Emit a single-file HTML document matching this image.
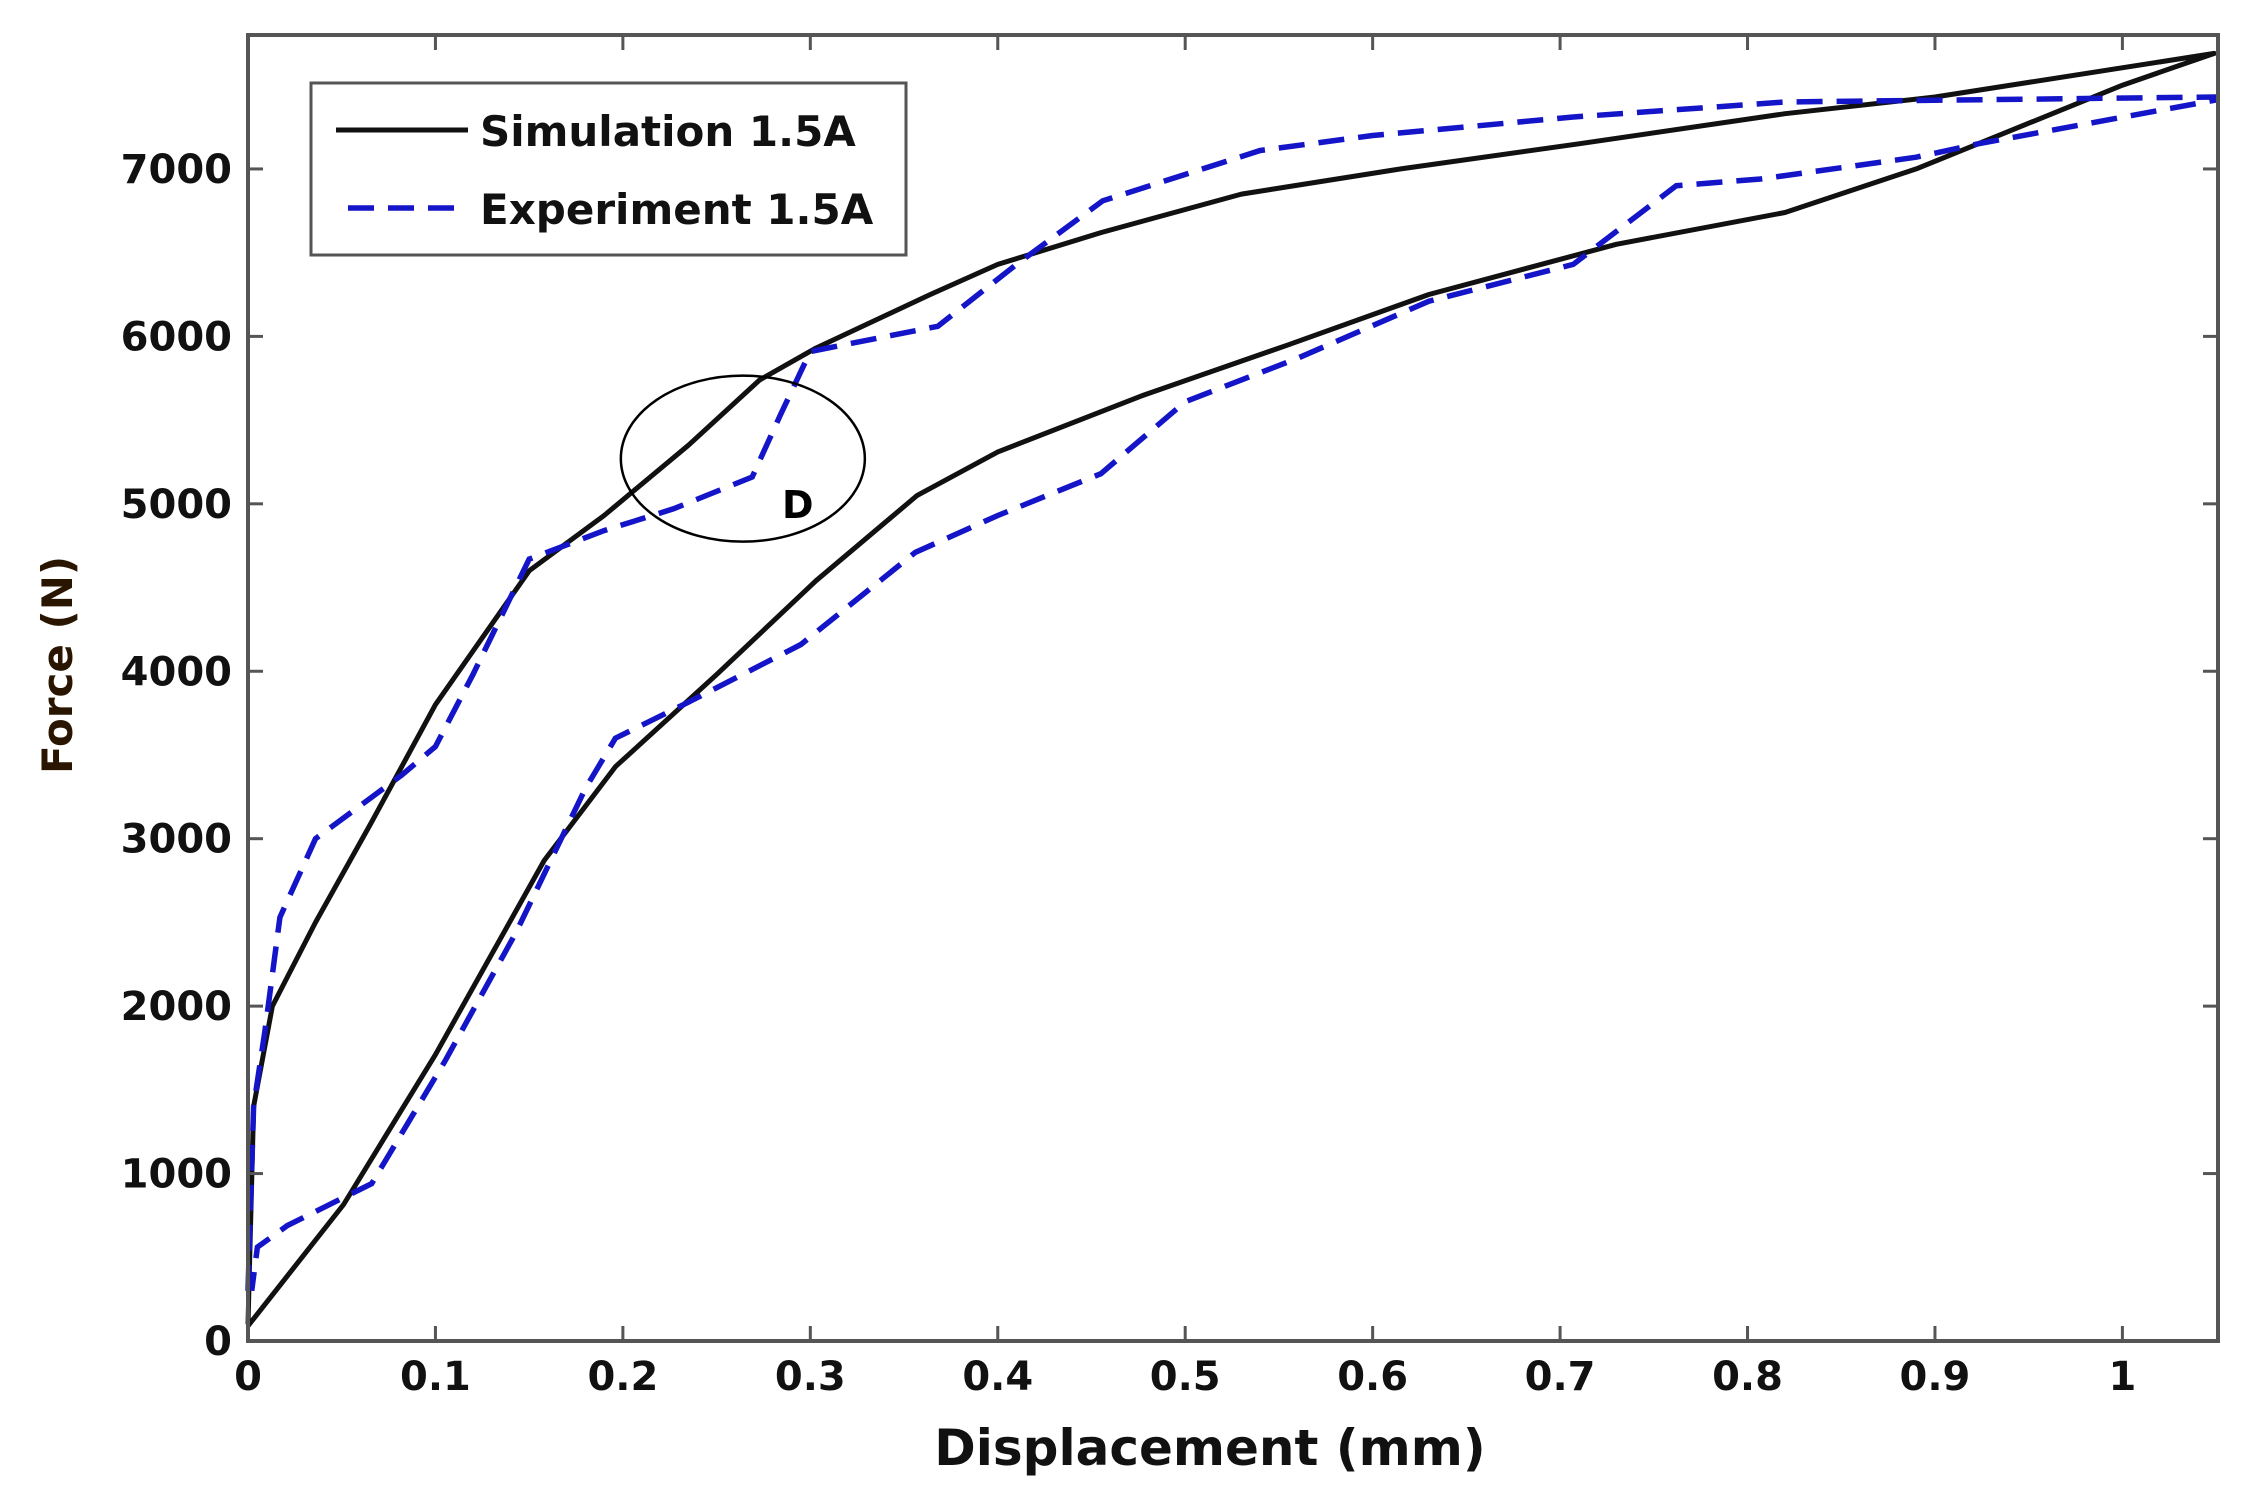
<!DOCTYPE html>
<html><head><meta charset="utf-8"><style>
html,body{margin:0;padding:0;background:#fff;}
svg{display:block;font-family:"DejaVu Sans","Liberation Sans",sans-serif;}
</style></head><body>
<svg id="chart" width="2248" height="1499" viewBox="0 0 2248 1499" xmlns="http://www.w3.org/2000/svg">
<rect x="0" y="0" width="2248" height="1499" fill="#fff"/>
<g id="marks"></g>
<g id="axes"></g>
</svg>
<script>
const xTicks=[0,0.1,0.2,0.3,0.4,0.5,0.6,0.7,0.8,0.9,1];
const xTickLabels=["0","0.1","0.2","0.3","0.4","0.5","0.6","0.7","0.8","0.9","1"];
const yTicks=[0,1000,2000,3000,4000,5000,6000,7000];
const yTickLabels=["0","1000","2000","3000","4000","5000","6000","7000"];
const simX=[0,0.003,0.013,0.036,0.066,0.1,0.15,0.19,0.235,0.273,0.303,0.364,0.40,0.455,0.53,0.615,0.71,0.82,0.9,1.049,1.0,0.89,0.82,0.73,0.63,0.555,0.478,0.40,0.357,0.303,0.25,0.196,0.158,0.1,0.051,0];
const simY=[100,1400,2000,2500,3100,3800,4600,4930,5350,5740,5930,6250,6430,6620,6850,7000,7150,7330,7430,7690,7500,7000,6740,6550,6250,5950,5650,5310,5050,4540,3980,3430,2870,1710,815,90];
const expX=[0,0.003,0.009,0.017,0.036,0.082,0.1,0.12,0.15,0.19,0.227,0.269,0.284,0.3,0.368,0.41,0.456,0.54,0.6,0.707,0.82,1.049,1.049,0.923,0.89,0.807,0.762,0.707,0.63,0.56,0.5,0.455,0.40,0.356,0.295,0.234,0.196,0.18,0.143,0.105,0.066,0.021,0.005,0.002];
const expY=[300,1400,1850,2530,3000,3380,3550,3980,4670,4840,4970,5160,5530,5910,6060,6430,6810,7110,7200,7310,7400,7430,7410,7150,7070,6940,6900,6430,6210,5870,5610,5180,4930,4710,4160,3810,3600,3300,2440,1670,940,690,560,300];
const annX=[0.264], annY=[5270];

const L=248,R=2218,T=35,B=1341,XMAX=1.051,YMAX=7800;
const sx=v=>L+v/XMAX*(R-L);
const sy=v=>B-v/YMAX*(B-T);
const NS="http://www.w3.org/2000/svg";
const marks=document.getElementById('marks'),axes=document.getElementById('axes');
function mk(tag,attrs,parent){const e=document.createElementNS(NS,tag);for(const k in attrs)e.setAttribute(k,attrs[k]);parent.appendChild(e);return e;}
function pts(xs,ys){return xs.map((x,i)=>sx(x).toFixed(1)+','+sy(ys[i]).toFixed(1)).join(' ');}

const sim=mk('polyline',{points:pts(simX,simY),fill:'none',stroke:'#111','stroke-width':5,'stroke-linejoin':'round'},marks);


const exp=mk('polyline',{points:pts(expX,expY),fill:'none',stroke:'#1414c8','stroke-width':5.5,'stroke-dasharray':'26 14'},marks);



const circ=mk('ellipse',{cx:sx(annX[0]),cy:sy(annY[0]),rx:122,ry:83,fill:'none',stroke:'#000','stroke-width':2.5},marks);


const dl=mk('text',{x:782,y:518,'font-size':38,'font-weight':'bold',fill:'#000'},marks);dl.textContent='D';



const frame=mk('rect',{x:L,y:T,width:R-L,height:B-T,fill:'none',stroke:'#555','stroke-width':4},axes);


xTicks.forEach((v,i)=>{
 const x=sx(v);
 const t1=mk('line',{x1:x,y1:B,x2:x,y2:B-15,stroke:'#555','stroke-width':3},axes);
 
 
 const t2=mk('line',{x1:x,y1:T,x2:x,y2:T+15,stroke:'#555','stroke-width':3},axes);
 
 
 const lb=mk('text',{x:x,y:1390,'font-size':40,'font-weight':'bold','text-anchor':'middle',fill:'#111'},axes);lb.textContent=xTickLabels[i];
 
 
});
yTicks.forEach((v,i)=>{
 const y=sy(v);
 const t1=mk('line',{x1:L,y1:y,x2:L+15,y2:y,stroke:'#555','stroke-width':3},axes);
 
 
 const t2=mk('line',{x1:R,y1:y,x2:R-15,y2:y,stroke:'#555','stroke-width':3},axes);
 
 
 const lb=mk('text',{x:232,y:y+14,'font-size':40,'font-weight':'bold','text-anchor':'end',fill:'#111'},axes);lb.textContent=yTickLabels[i];
 
 
});
const xt=mk('text',{x:1210,y:1465,'font-size':50,'font-weight':'bold','text-anchor':'middle',fill:'#111'},axes);xt.textContent='Displacement (mm)';


const yt=mk('text',{x:0,y:0,'font-size':42,'font-weight':'bold','text-anchor':'middle',fill:'#2a1500',transform:'translate(72,665) rotate(-90)'},axes);yt.textContent='Force (N)';



const lg=mk('g',{},axes);


mk('rect',{x:311,y:83,width:595,height:172,fill:'#fff',stroke:'#555','stroke-width':3},lg);
mk('line',{x1:336,y1:130,x2:468,y2:130,stroke:'#111','stroke-width':5},lg);
mk('line',{x1:348,y1:208,x2:468,y2:208,stroke:'#1414c8','stroke-width':5.5,'stroke-dasharray':'26 14'},lg);
const l1=mk('text',{x:480,y:146,'font-size':42,'font-weight':'bold',fill:'#111'},lg);l1.textContent='Simulation 1.5A';


const l2=mk('text',{x:480,y:224,'font-size':42,'font-weight':'bold',fill:'#111'},lg);l2.textContent='Experiment 1.5A';


</script>
</body></html>
